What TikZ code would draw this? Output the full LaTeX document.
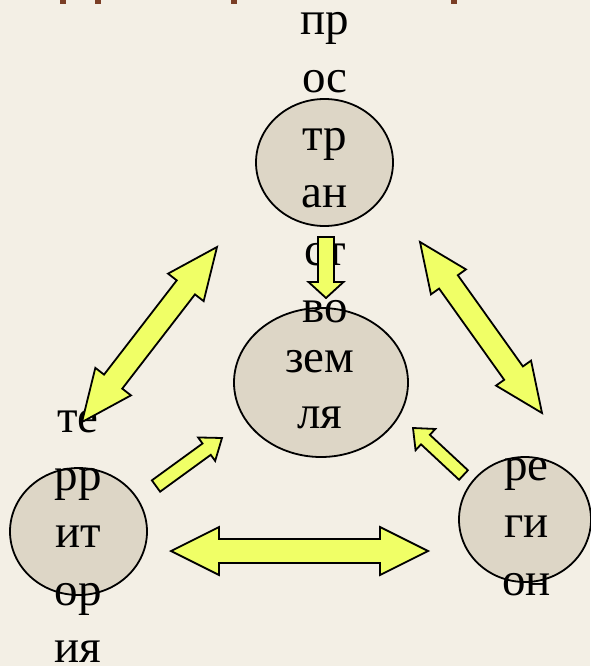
\documentclass[tikz,border=0pt]{standalone}
\usepackage{fontspec}
\setmainfont{Liberation Serif}
\newfontfamily\ruserif{Liberation Serif}
\usetikzlibrary{calc,shapes.geometric}
\definecolor{bg}{RGB}{243,239,229}
\definecolor{discfill}{RGB}{221,214,198}
\definecolor{arrowfill}{RGB}{240,255,102}
\definecolor{markbrown}{RGB}{122,62,38}
\tikzset{
  disc/.style={ellipse, draw=black, line width=1.8pt, fill=discfill, inner sep=0pt},
  word/.style={font=\ruserif\fontsize{47}{57.5}\selectfont, anchor=base, inner sep=0pt},
  arr/.style={draw=black, line width=1.8pt, fill=arrowfill, line join=miter},
  topmark/.style={fill=markbrown, draw=none},
}
% #1 name, #2 tail, #3 tip, #4 shaft half width, #5 head half width, #6 head length
\newcommand\singlearrow[6]{%
  \coordinate (#1b) at ($(#3)!#6!(#2)$);
  \draw[arr] ($(#2)!#4!90:(#3)$) -- ($(#1b)!#4!90:(#3)$) -- ($(#1b)!#5!90:(#3)$) -- (#3)
    -- ($(#1b)!#5!-90:(#3)$) -- ($(#1b)!#4!-90:(#3)$) -- ($(#2)!#4!-90:(#3)$) -- cycle;}
% #1 name, #2 end P, #3 end Q, #4 shaft half width, #5 head half width, #6 head length
\newcommand\doublearrow[6]{%
  \coordinate (#1p) at ($(#2)!#6!(#3)$);
  \coordinate (#1q) at ($(#3)!#6!(#2)$);
  \draw[arr] (#2) -- ($(#1p)!#5!90:(#3)$) -- ($(#1p)!#4!90:(#3)$) -- ($(#1q)!#4!-90:(#2)$)
    -- ($(#1q)!#5!-90:(#2)$) -- (#3) -- ($(#1q)!#5!90:(#2)$) -- ($(#1q)!#4!90:(#2)$)
    -- ($(#1p)!#4!-90:(#3)$) -- ($(#1p)!#5!-90:(#3)$) -- cycle;}
\begin{document}
\begin{tikzpicture}[x=1pt,y=-1pt]
  \useasboundingbox (0,0) rectangle (590,666);
  \fill[bg] (0,0) rectangle (590,666);
  % brown marks at the top edge
  \fill[topmark] (60,0) rectangle (66,4);
  \fill[topmark] (95,0) rectangle (101,4);
  \fill[topmark] (231,0) rectangle (237,4);
  \fill[topmark] (451,0) rectangle (457,4);
  % discs
  \node[disc, minimum width=137pt, minimum height=127pt] (space) at (324.5,162.5) {};
  \node[disc, minimum width=174pt, minimum height=149pt] (earth) at (321,382.5) {};
  \node[disc, minimum width=137pt, minimum height=127pt] (terr) at (78.5,531.5) {};
  \node[disc, minimum width=132pt, minimum height=125pt] (reg) at (525,519.5) {};
  % words
  \foreach \w [count=\i] in {пр,ос,тр,ан,ст,во}
    \node[word] (sw\i) at (325,{35+57.5*(\i-1)}) {\w};
  \node[word] (ew1) at (320,372) {зем};
  \node[word] (ew2) at (320,428) {ля};
  \foreach \w [count=\i] in {те,рр,ит,ор,ия}
    \node[word] (tw\i) at (78,{432.5+57.5*(\i-1)}) {\w};
  \foreach \w [count=\i] in {ре,ги,он}
    \node[word] (rw\i) at (526.5,{480+57.5*(\i-1)}) {\w};
  % arrow end points
  \coordinate (la) at (82,422);   \coordinate (lb) at (217,247);
  \coordinate (ra) at (420,242);  \coordinate (rb) at (542,413);
  \coordinate (ba) at (171,551);  \coordinate (bb) at (428,551);
  \coordinate (vt) at (326,237);  \coordinate (vh) at (326,298);
  \coordinate (st) at (156,486);  \coordinate (sh) at (222,438);
  \coordinate (qt) at (463.5,475);\coordinate (qh) at (413,428);
  % arrows
  \doublearrow{L}{la}{lb}{11.5pt}{22.5pt}{51pt}
  \doublearrow{R}{ra}{rb}{11.5pt}{21.5pt}{49pt}
  \doublearrow{B}{ba}{bb}{12pt}{24pt}{48pt}
  \singlearrow{V}{vt}{vh}{8pt}{17.5pt}{16pt}
  \singlearrow{S}{st}{sh}{7pt}{14.5pt}{19pt}
  \singlearrow{Q}{qt}{qh}{6.5pt}{14.5pt}{17pt}
\end{tikzpicture}
\end{document}
